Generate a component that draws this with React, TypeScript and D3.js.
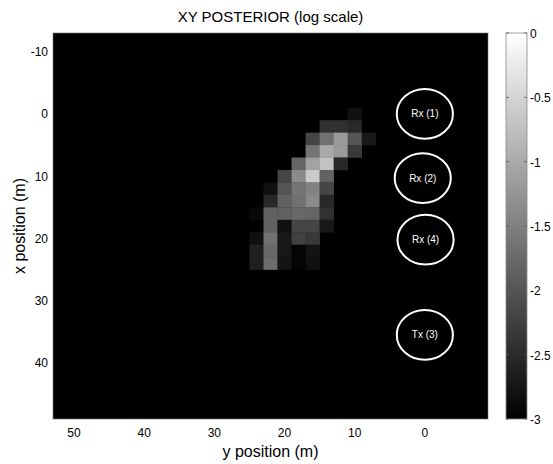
import React from "react";
import * as d3 from "d3";

// ---- data ----
// heatmap cells (2 m grid): x position (vertical axis), y position (horizontal axis), log10 posterior
const cellXPos = [
  0,
  2, 2, 2,
  4, 4, 4, 4, 4,
  6, 6, 6, 6,
  8, 8, 8, 8,
  10, 10, 10, 10,
  12, 12, 12, 12, 12,
  14, 14, 14, 14, 14,
  16, 16, 16, 16, 16, 16,
  18, 18, 18, 18, 18,
  20, 20, 20, 20, 20,
  22, 22, 22, 22, 22,
  24, 24, 24, 24, 24,
];
const cellYPos = [
  10,
  14, 12, 10,
  16, 14, 12, 10, 8,
  16, 14, 12, 10,
  18, 16, 14, 12,
  20, 18, 16, 14,
  22, 20, 18, 16, 14,
  22, 20, 18, 16, 14,
  24, 22, 20, 18, 16, 14,
  22, 20, 18, 16, 14,
  24, 22, 20, 18, 16,
  24, 22, 20, 18, 16,
  24, 22, 20, 18, 16,
];
const cellLogP = [
  -2.8,
  -2.4, -2.4, -2.5,
  -2.2, -1.68, -1.2, -2.0, -2.69,
  -1.6, -1.0, -1.2, -2.32,
  -1.8, -1.12, -0.74, -2.51,
  -2.2, -1.38, -0.65, -1.87,
  -2.8, -2.0, -1.6, -1.49, -2.2,
  -2.51, -1.87, -1.68, -1.38, -2.51,
  -2.88, -1.87, -1.85, -1.75, -1.8, -2.4,
  -1.87, -2.8, -2.2, -2.2, -2.69,
  -2.8, -1.68, -2.69, -2.22, -2.32,
  -2.6, -1.75, -2.69, -2.91, -2.75,
  -2.6, -1.72, -2.75, -2.91, -2.81,
];

const markerLabels = ["Rx (1)", "Rx (2)", "Rx (4)", "Tx (3)"];
const markerXPos = [0, 10.3, 20.2, 35.5];
const markerYPos = [0, 0.3, -0.1, 0];
const markerRadius = 4;

const hTicks = [50, 40, 30, 20, 10, 0];
const vTicks = [-10, 0, 10, 20, 30, 40];
const cbTicks = [0, -0.5, -1, -1.5, -2, -2.5, -3];

const CELL = 2;

export default function App() {
  const W = 553, H = 464;
  const left = 53, right = 488, top = 33, bottom = 419;
  const font = "'Liberation Sans', Arial, Helvetica, sans-serif";

  const xs = d3.scaleLinear().domain([53, -9]).range([left, right]);
  const ys = d3.scaleLinear().domain([-13, 49]).range([top, bottom]);
  const levels = 64;
  const quant = (v: number) => {
    const t = Math.max(0, Math.min(1, (v + 3) / 3));
    const idx = Math.min(levels - 1, Math.floor(t * levels));
    return idx / (levels - 1);
  };
  const gray = (v: number) => d3.interpolateRgb("#000000", "#ffffff")(quant(v));

  const cbL = 506, cbR = 527;
  const cbS = d3.scaleLinear().domain([-3, 0]).range([bottom, top]);

  return (
    <div style={{ position: "fixed", left: 0, top: 0, width: W, height: H, background: "#fff" }}>
      <svg width={W} height={H} style={{ display: "block" }} fontFamily={font}>
        <defs>
          <linearGradient id="cbgrad" x1="0" y1="1" x2="0" y2="0">
            <stop offset="0%" stopColor="#000" />
            <stop offset="100%" stopColor="#fff" />
          </linearGradient>
        </defs>
        <text x={(left + right) / 2} y={22} textAnchor="middle" fontSize={15} fill="#000">
          XY POSTERIOR (log scale)
        </text>
        <rect x={left} y={top} width={right - left} height={bottom - top} fill="#000" stroke="#777" strokeWidth={0.6} />
        {cellLogP.map((v, i) => {
          const x0 = xs(cellYPos[i] + CELL / 2);
          const x1 = xs(cellYPos[i] - CELL / 2);
          const y0 = ys(cellXPos[i] - CELL / 2);
          const y1 = ys(cellXPos[i] + CELL / 2);
          return (
            <rect key={i} x={x0} y={y0} width={x1 - x0 + 0.3} height={y1 - y0 + 0.3} fill={gray(v)} />
          );
        })}
        {markerLabels.map((lab, i) => {
          const cx = xs(markerYPos[i]);
          const cy = ys(markerXPos[i]);
          const rx = Math.abs(xs(markerRadius) - xs(0));
          const ry = Math.abs(ys(markerRadius) - ys(0));
          return (
            <g key={lab}>
              <ellipse cx={cx} cy={cy} rx={rx} ry={ry} fill="none" stroke="#fff" strokeWidth={2} />
              <text x={cx} y={cy + 3.5} textAnchor="middle" fontSize={10} fill="#fff">
                {lab}
              </text>
            </g>
          );
        })}
        {hTicks.map((t) => (
          <text key={"h" + t} x={xs(t)} y={437} textAnchor="middle" fontSize={12} fill="#000">
            {t}
          </text>
        ))}
        {vTicks.map((t) => (
          <text key={"v" + t} x={48} y={ys(t) + 4.5} textAnchor="end" fontSize={12} fill="#000">
            {t}
          </text>
        ))}
        <text x={(left + right) / 2} y={457} textAnchor="middle" fontSize={16} fill="#000">
          y position (m)
        </text>
        <text
          transform={`translate(25, ${(top + bottom) / 2}) rotate(-90)`}
          textAnchor="middle"
          fontSize={16}
          fill="#000"
        >
          x position (m)
        </text>
        <rect x={cbL} y={top} width={cbR - cbL} height={bottom - top} fill="url(#cbgrad)" stroke="#888" strokeWidth={0.8} />
        {cbTicks.map((t) => (
          <g key={"c" + t}>
            <line x1={cbL} x2={cbL + 3} y1={cbS(t)} y2={cbS(t)} stroke="#555" strokeWidth={0.8} />
            <line x1={cbR - 3} x2={cbR} y1={cbS(t)} y2={cbS(t)} stroke="#555" strokeWidth={0.8} />
            <text x={cbR + 3} y={cbS(t) + 5} fontSize={12} fill="#000">
              {t}
            </text>
          </g>
        ))}
      </svg>
    </div>
  );
}
